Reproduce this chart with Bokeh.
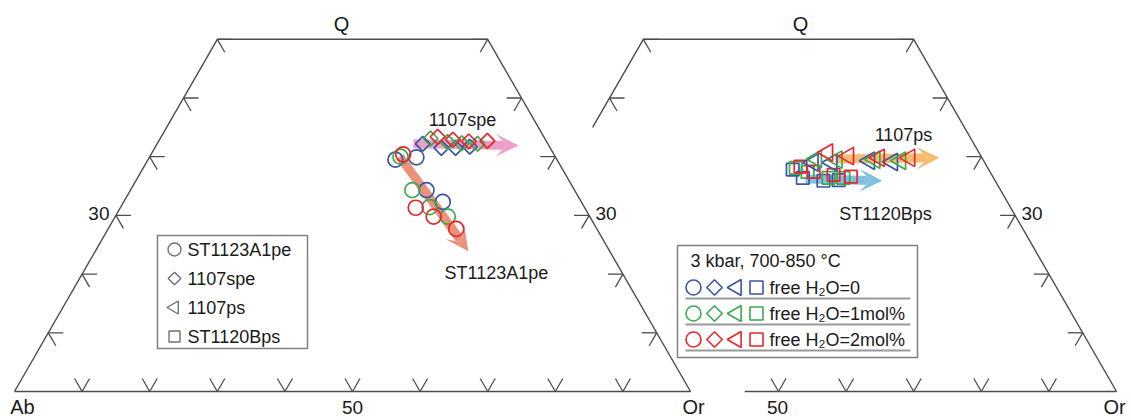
import math
from bokeh.plotting import figure
from bokeh.models import Range1d, Arrow, VeeHead
from bokeh.core.properties import value
from bokeh.embed import file_html
from bokeh.resources import INLINE

# ---------------- data (ternary wt%: Q, Or ; Ab = 100 - Q - Or) ----------------
level_names = ["free H₂O=0", "free H₂O=1mol%", "free H₂O=2mol%"]
level_colors = ["#3A55A6", "#3AAA4B", "#E8262B"]

# ST1123A1pe (circles) - levels 0,0,0,0,1,...,2
st1123_level = [0, 0, 0, 0, 1, 1, 1, 1, 2, 2, 2, 2]
st1123_q = [39.5, 39.9, 34.3, 32.3, 40.0, 34.3, 31.4, 29.8, 40.4, 31.3, 29.8, 27.7]
st1123_or = [36.6, 39.5, 43.8, 47.2, 37.1, 41.7, 45.7, 49.2, 37.3, 43.7, 47.1, 51.5]

# 1107spe (diamonds)
spe_level = [0, 0, 0, 0, 1, 1, 1, 1, 2, 2, 2, 2]
spe_q = [42.2, 41.5, 41.5, 41.7, 43.1, 42.5, 42.3, 42.2, 43.4, 42.9, 42.6, 42.7]
spe_or = [39.3, 42.4, 44.5, 46.5, 40.0, 42.8, 45.0, 47.4, 40.9, 43.4, 45.9, 48.6]

# 1107ps (triangles)
ps_level = [0, 0, 0, 0, 1, 1, 1, 1, 2, 2, 2, 2]
ps_q = [39.0, 39.0, 39.3, 39.1, 39.6, 39.5, 39.5, 39.3, 40.7, 40.1, 39.8, 39.8]
ps_or = [35.6, 38.4, 43.8, 47.3, 35.8, 38.9, 44.5, 48.4, 36.9, 40.3, 45.0, 49.5]

# ST1120Bps (squares)
st1120_level = [0, 0, 0, 0, 1, 1, 1, 1, 2, 2, 2, 2]
st1120_q = [37.8, 36.4, 35.9, 36.0, 38.1, 37.4, 36.4, 36.4, 38.3, 37.4, 36.9, 36.6]
st1120_or = [33.2, 35.4, 38.7, 40.9, 33.5, 35.6, 39.2, 41.4, 34.1, 36.5, 39.7, 42.4]

# trend arrows
arrow_names = ["ST1123A1pe", "1107spe", "1107ps", "ST1120Bps"]
arrow_q0 = [40.0, 42.2, 39.6, 36.2]
arrow_or0 = [37.0, 37.9, 38.6, 35.9]
arrow_q1 = [23.9, 41.9, 39.8, 35.9]
arrow_or1 = [55.2, 53.6, 53.9, 47.4]
arrow_colors = ["#E8836B", "#EA92C0", "#F2B35C", "#70B7DC"]

# ticks
q_ticks = [10, 20, 30, 40, 50, 60]
or_ticks = [10, 20, 30, 40, 50, 60, 70, 80, 90]
Q_TOP = 60

legend_samples = ["ST1123A1pe", "1107spe", "1107ps", "ST1120Bps"]
legend_title = "3 kbar, 700-850 °C"

# ---------------- geometry (layout) ----------------
W, H = 1131, 420
LEFT_X0, RIGHT_X0 = 14, 440
BASE_Y = 391
SX, SY = 6.76, 5.87
FONT = "Liberation Sans"
EDGE = "#4d4d4d"
TXT = "#1a1a1a"


def tern(q, o, x0):
    xs = [x0 + SX * (oo + qq / 2.0) for qq, oo in zip(q, o)]
    ys = [BASE_Y - SY * qq for qq in q]
    return xs, ys


p = figure(width=W, height=H, x_range=Range1d(0, W), y_range=Range1d(H, 0),
           output_backend="svg", toolbar_location=None,
           x_axis_location=None, y_axis_location=None, min_border=0)
p.grid.visible = False
p.outline_line_color = None
p.background_fill_color = "white"
p.border_fill_color = "white"


def txt(x, y, s, size=18, align="center", baseline="middle", color=TXT):
    p.text(x=[x], y=[y], text=[s], text_font=value(FONT),
           text_font_size=value(f"{size}px"), text_align=align,
           text_baseline=baseline, text_color=color)


# ---------------- triangle frames ----------------
lx, ly = tern([0, Q_TOP, Q_TOP, 0, 0], [0, 0, 100 - Q_TOP, 100, 0], LEFT_X0)
p.line(lx, ly, line_color=EDGE, line_width=1.4)
rx, ry = tern([45, Q_TOP, Q_TOP, 0, 0], [0, 0, 100 - Q_TOP, 100, 45], RIGHT_X0)
p.line(rx, ry, line_color=EDGE, line_width=1.4)

# ---------------- tick marks ----------------
L = 15.0
c60, s60 = 0.5, math.sqrt(3) / 2
sx0, sy0, sx1, sy1 = [], [], [], []


def add_ticks(pts_x, pts_y, dirs):
    for x, y in zip(pts_x, pts_y):
        for dx, dy in dirs:
            sx0.append(x); sy0.append(y)
            sx1.append(x + L * dx); sy1.append(y + L * dy)


bottom_dirs = [(-c60, -s60), (c60, -s60)]
left_dirs = [(1, 0), (c60, s60)]
right_dirs = [(-1, 0), (-c60, s60)]

bx, by = tern([0] * len(or_ticks), or_ticks, LEFT_X0)
add_ticks(bx, by, bottom_dirs)
ex, ey = tern(q_ticks, [0] * len(q_ticks), LEFT_X0)
add_ticks(ex, ey, left_dirs)
ex, ey = tern(q_ticks, [100 - q for q in q_ticks], LEFT_X0)
add_ticks(ex, ey, right_dirs)
rb = [t for t in or_ticks if t >= 50]
bx, by = tern([0] * len(rb), rb, RIGHT_X0)
add_ticks(bx, by, bottom_dirs)
rq = [t for t in q_ticks if t >= 50]
ex, ey = tern(rq, [0] * len(rq), RIGHT_X0)
add_ticks(ex, ey, left_dirs)
ex, ey = tern(q_ticks, [100 - q for q in q_ticks], RIGHT_X0)
add_ticks(ex, ey, right_dirs)

p.segment(x0=sx0, y0=sy0, x1=sx1, y1=sy1, line_color=EDGE, line_width=1.3)

# ---------------- arrows ----------------
panel_of_arrow = [LEFT_X0, LEFT_X0, RIGHT_X0, RIGHT_X0]
for i in range(4):
    (xa, xb), (ya, yb) = tern([arrow_q0[i], arrow_q1[i]], [arrow_or0[i], arrow_or1[i]], panel_of_arrow[i])
    p.add_layout(Arrow(x_start=xa, y_start=ya, x_end=xb, y_end=yb,
                       line_color=arrow_colors[i], line_width=9, line_alpha=0.88,
                       end=VeeHead(size=23, fill_color=arrow_colors[i], fill_alpha=0.88,
                                   line_color=None),
                       level="underlay"))

# ---------------- data markers ----------------
def draw(q, o, lev, x0, marker, size, angle=0.0):
    xs, ys = tern(q, o, x0)
    for k in range(3):
        px = [x for x, l in zip(xs, lev) if l == k]
        py = [y for y, l in zip(ys, lev) if l == k]
        p.scatter(px, py, marker=marker, size=size, angle=angle,
                  fill_color=None, line_color=level_colors[k], line_width=1.7)


draw(st1123_q, st1123_or, st1123_level, LEFT_X0, "circle", 15)
draw(spe_q, spe_or, spe_level, LEFT_X0, "square", 10.5, math.pi / 4)
draw(st1120_q, st1120_or, st1120_level, RIGHT_X0, "square", 12.5)
draw(ps_q, ps_or, ps_level, RIGHT_X0, "triangle", 17.5, math.pi / 2)

# ---------------- labels ----------------
txt(341, 23, "Q", 20)
txt(800, 23, "Q", 20)
txt(22, 406, "Ab", 20)
txt(693, 406, "Or", 20)
txt(1114, 406, "Or", 20)
txt(352, 407, "50", 19)
txt(777, 407, "50", 19)
txt(109, 213, "30", 19, align="right")
txt(595, 213, "30", 19, align="left")
txt(1021, 213, "30", 19, align="left")

txt(462, 119, arrow_names[1], 18)
txt(444, 272, arrow_names[0], 18, align="left")
txt(903, 134, arrow_names[2], 18)
txt(885, 213, arrow_names[3], 18)

# ---------------- legend 1 (samples) ----------------
p.quad(left=[157], right=[307], top=[235], bottom=[348], fill_color="white",
       line_color="#808080", line_width=1.5)
leg_y = [249, 278, 307, 336]
p.scatter([174], [leg_y[0]], marker="circle", size=13, fill_color=None, line_color="#707070", line_width=1.4)
p.scatter([174], [leg_y[1]], marker="square", size=9, angle=math.pi / 4, fill_color=None, line_color="#707070", line_width=1.4)
p.scatter([174], [leg_y[2]], marker="triangle", size=13, angle=math.pi / 2, fill_color=None, line_color="#707070", line_width=1.4)
p.scatter([174], [leg_y[3]], marker="square", size=11, fill_color=None, line_color="#707070", line_width=1.4)
for yy, name in zip(leg_y, legend_samples):
    txt(187, yy, name, 18, align="left")

# ---------------- legend 2 (conditions) ----------------
p.quad(left=[677], right=[917], top=[245], bottom=[357], fill_color="white",
       line_color="#808080", line_width=1.5)
txt(690, 260, legend_title, 18, align="left")
row_y = [287, 313, 339]
for k in range(3):
    yy = row_y[k]
    col = level_colors[k]
    p.scatter([693], [yy], marker="circle", size=15, fill_color=None, line_color=col, line_width=1.6)
    p.scatter([714], [yy], marker="square", size=11, angle=math.pi / 4, fill_color=None, line_color=col, line_width=1.6)
    p.scatter([736], [yy], marker="triangle", size=16, angle=math.pi / 2, fill_color=None, line_color=col, line_width=1.6)
    p.scatter([756], [yy], marker="square", size=13, fill_color=None, line_color=col, line_width=1.6)
    txt(769, yy, level_names[k], 18, align="left")
    p.segment(x0=[685], y0=[yy + 11], x1=[910], y1=[yy + 11], line_color="#9a9a9a", line_width=2)

open("out.html", "w").write(file_html(p, INLINE))
